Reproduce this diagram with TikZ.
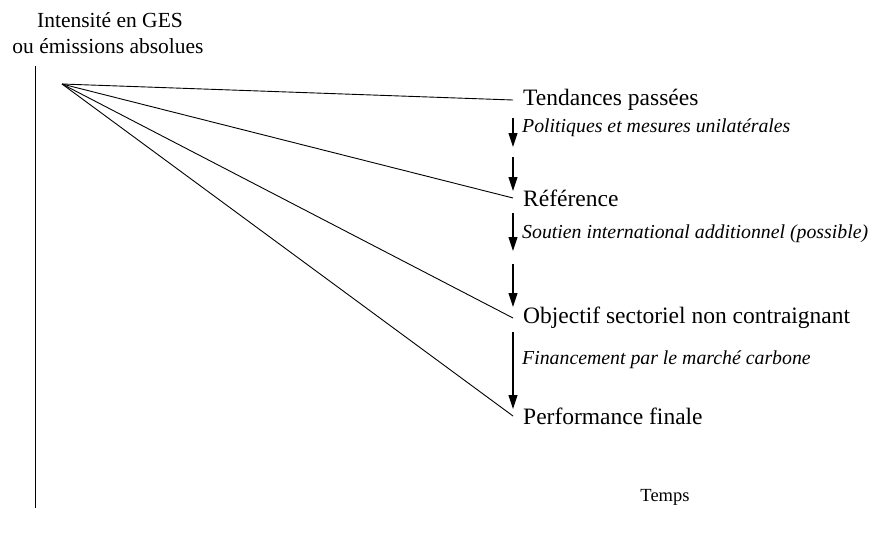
\documentclass[tikz,border=0pt]{standalone}
\usepackage{fontspec}
\setmainfont{Liberation Serif}
\usetikzlibrary{arrows.meta}
\begin{document}
\begin{tikzpicture}[x=1pt,y=-1pt,
  ray/.style={line width=0.9pt},
  stage/.style={anchor=west,inner xsep=10pt,inner ysep=0pt,font=\fontsize{23.5}{26}\selectfont},
  lever/.style={anchor=west,inner xsep=9pt,inner ysep=0pt,font=\fontsize{19.8}{24}\selectfont\itshape},
  flow/.style={line width=1.1pt,-{Triangle[width=9pt,length=14pt]}},
  head/.style={align=center,font=\fontsize{21.5}{26}\selectfont}]
\useasboundingbox (0,0) rectangle (874,536);
\node[head] (h1) at (110,20) {Intensité en GES};
\node[head] (h2) at (108,46) {ou émissions absolues};
\coordinate (ytop) at (35,66);
\coordinate (ybot) at (35,508);
\draw[ray] (ytop) -- (ybot);
\node[font=\fontsize{18.5}{22}\selectfont] (temps) at (665,497) {Temps};
\coordinate (o) at (62,84);
\node[stage] (t1) at (513,100) {Tendances passées};
\node[stage] (t2) at (513,198) {Référence};
\node[stage] (t3) at (513,318) {Objectif sectoriel non contraignant};
\node[stage] (t4) at (513,416) {Performance finale};
\draw[ray] (o) -- (t1.west);
\draw[ray] (o) -- (t2.west);
\draw[ray] (o) -- (t3.west);
\draw[ray] (o) -- (t4.west);
\node[lever] (l1) at (513,128) {Politiques et mesures unilatérales};
\node[lever] (l2) at (513,234) {Soutien international additionnel (possible)};
\node[lever] (l3) at (513,360) {Financement par le marché carbone};
\coordinate (a1s) at (513,118); \coordinate (a1e) at (513,147);
\coordinate (a2s) at (513,157); \coordinate (a2e) at (513,191);
\coordinate (a3s) at (513,213); \coordinate (a3e) at (513,251);
\coordinate (a4s) at (513,264); \coordinate (a4e) at (513,307);
\coordinate (a5s) at (513,332); \coordinate (a5e) at (513,409);
\draw[flow] (a1s) -- (a1e);
\draw[flow] (a2s) -- (a2e);
\draw[flow] (a3s) -- (a3e);
\draw[flow] (a4s) -- (a4e);
\draw[flow] (a5s) -- (a5e);
\end{tikzpicture}
\end{document}
